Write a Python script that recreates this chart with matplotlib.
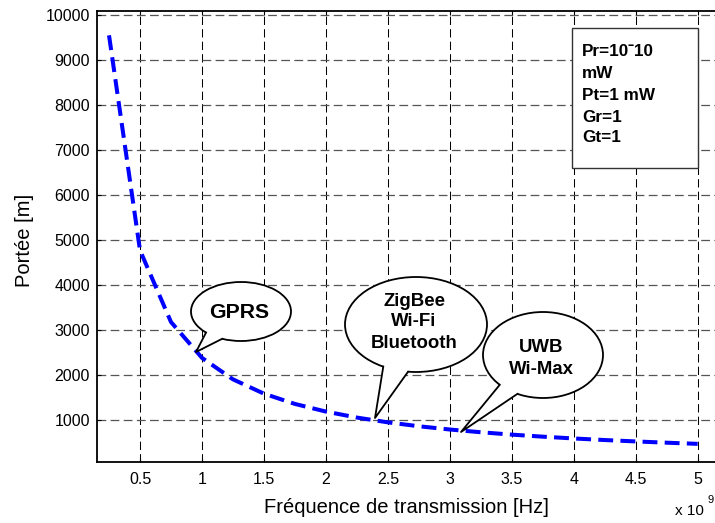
import numpy as np
import matplotlib
matplotlib.use("Agg")
import matplotlib.pyplot as plt
from matplotlib.patches import Ellipse, Polygon, Rectangle
from matplotlib.lines import Line2D
from matplotlib.transforms import Affine2D

# ---- data (frequency in units of 1e9 Hz, range in m) ----
freq = [0.25, 0.5, 0.75, 1.0, 1.25, 1.5, 1.75, 2.0, 2.25, 2.5,
        2.75, 3.0, 3.25, 3.5, 3.75, 4.0, 4.25, 4.5, 4.75, 5.0]
portee = [9549, 4775, 3183, 2387, 1910, 1592, 1364, 1194, 1061, 955,
          868, 796, 735, 682, 637, 597, 562, 531, 503, 477]
xticks = [0.5, 1, 1.5, 2, 2.5, 3, 3.5, 4, 4.5, 5]
xticklabels = ["0.5", "1", "1.5", "2", "2.5", "3", "3.5", "4", "4.5", "5"]
yticks = [1000, 2000, 3000, 4000, 5000, 6000, 7000, 8000, 9000, 10000]
info_lines = ["Pr=10\u02c910", "mW", "Pt=1 mW", "Gr=1", "Gt=1"]

W, H = 715, 523
plt.rcParams['font.family'] = ['Liberation Sans', 'DejaVu Sans']
fig = plt.figure(figsize=(W / 100, H / 100), dpi=100)
ax = fig.add_axes([97 / W, (H - 461.7) / H, (W - 97) / W, (461.7 - 11) / H])

ax.plot(freq, portee, color='#0000ff', lw=2.9, linestyle=(0, (3.7, 1.8)),
        zorder=3, solid_capstyle='butt', dash_capstyle='butt')

ax.set_xlim(0.153, 5.14)
ax.set_ylim(81, 10089)
ax.set_xticks(xticks)
ax.set_xticklabels(xticklabels)
ax.set_yticks(yticks)
ax.tick_params(direction='in', length=3, width=0.8, labelsize=11.5,
               top=True, right=False, colors='black')
ax.tick_params(axis='x', pad=7.5)
ax.tick_params(axis='y', pad=5)
ax.xaxis.grid(True, color='black', lw=0.75, linestyle=(0, (8, 4)))
ax.yaxis.grid(True, color='#555555', lw=0.9, linestyle=(0, (7, 3.5)))
ax.set_axisbelow(True)
for s in ['left', 'bottom', 'top']:
    ax.spines[s].set_linewidth(1.3)
ax.spines['right'].set_visible(False)

# pixel transform (origin top-left)
T = Affine2D().scale(1 / 100, -1 / 100).translate(0, H / 100) + fig.dpi_scale_trans

fig.text(406, 513, "Fréquence de transmission [Hz]", transform=T,
         ha='center', va='baseline', fontsize=14.5)
fig.text(24, 240, "Portée [m]", transform=T, rotation=90,
         ha='center', va='center', fontsize=14.5)
fig.text(675, 515, "x 10", transform=T, ha='left', va='baseline', fontsize=11)
fig.text(708, 503, "9", transform=T, ha='left', va='baseline', fontsize=8)

# info box
fig.add_artist(Rectangle((572, 28), 126, 140, transform=T, facecolor='white',
                         edgecolor='#333333', lw=1.0, zorder=5))
for txt, yy in zip(info_lines, [52, 73, 96, 117, 138]):
    fig.text(582, yy, txt, transform=T, ha='left', va='center',
             fontsize=12.3, fontweight='bold', zorder=6)


def bubble(cx, cy, w, h, p1, p2, tip, lines, fs, ys):
    a, b = w / 2, h / 2

    def on_ellipse(p):
        t = np.arctan2((p[1] - cy) / b, (p[0] - cx) / a)
        return cx + a * np.cos(t), cy + b * np.sin(t)
    b1 = on_ellipse(p1)
    b2 = on_ellipse(p2)
    fig.add_artist(Ellipse((cx, cy), w, h, transform=T, facecolor='white',
                           edgecolor='black', lw=1.3, zorder=5))
    inner1 = (cx + (b1[0] - cx) * 0.85, cy + (b1[1] - cy) * 0.85)
    inner2 = (cx + (b2[0] - cx) * 0.85, cy + (b2[1] - cy) * 0.85)
    fig.add_artist(Polygon([inner1, b1, tip, b2, inner2], closed=True,
                           transform=T, facecolor='white', edgecolor='none',
                           zorder=6))
    fig.add_artist(Line2D([b1[0], tip[0], b2[0]], [b1[1], tip[1], b2[1]],
                          transform=T, color='black', lw=1.3, zorder=7))
    for txt, yy in zip(lines, ys):
        fig.text(cx - 2, yy, txt, transform=T, ha='center', va='center',
                 fontsize=fs, fontweight='bold', zorder=8)


bubble(241, 311.5, 100, 59, (207, 332), (222, 339), (196, 352),
       ["GPRS"], 15.3, [312])
bubble(416, 324.5, 142, 95, (383, 367), (408, 372), (375, 418),
       ["ZigBee", "Wi-Fi", "Bluetooth"], 13.4, [301, 322, 343])
bubble(543, 355, 120, 86, (498, 386), (516, 396), (461, 432),
       ["UWB", "Wi-Max"], 13.4, [348, 370])

fig.savefig("out.png", dpi=100)
